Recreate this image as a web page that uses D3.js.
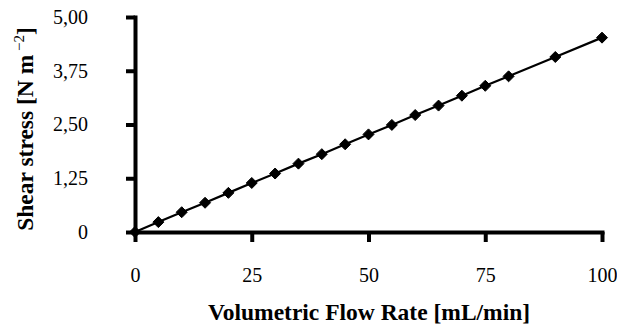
<!DOCTYPE html>
<html>
<head>
<meta charset="utf-8">
<script src="https://cdn.jsdelivr.net/npm/d3@7"></script>
<style>
  html, body { margin: 0; padding: 0; background: #fff; }
  svg { display: block; }
  svg text { font-family: "Liberation Serif", "Times New Roman", serif !important; fill: #000; }
</style>
</head>
<body>
<svg id="chart" width="617" height="325"></svg>
<script>
// Volumetric flow rate (mL/min) and resulting wall shear stress (N m^-2)
const flowRates = [0, 5, 10, 15, 20, 25, 30, 35, 40, 45, 50, 55, 60, 65, 70, 75, 80, 90, 100];
const shearStress = [0, 0.23, 0.46, 0.68, 0.91, 1.14, 1.36, 1.59, 1.81, 2.04, 2.27, 2.49, 2.72, 2.94, 3.17, 3.40, 3.62, 4.07, 4.52];

const xTicks = [0, 25, 50, 75, 100];
const xTickLabels = ["0", "25", "50", "75", "100"];
const yTicks = [0, 1.25, 2.5, 3.75, 5];
const yTickLabels = ["0", "1,25", "2,50", "3,75", "5,00"];

const svg = d3.select("#chart");
const x = d3.scaleLinear().domain([0, 100]).range([135, 602]);
const y = d3.scaleLinear().domain([0, 5]).range([232, 17]);

// Y axis
const yAxis = d3.axisLeft(y)
  .tickValues(yTicks)
  .tickFormat((d, i) => yTickLabels[i])
  .tickSizeInner(9)
  .tickSizeOuter(0)
  .tickPadding(38);
const gy = svg.append("g").attr("transform", `translate(${x(0)},0)`).call(yAxis);

// X axis
const xAxis = d3.axisBottom(x)
  .tickValues(xTicks)
  .tickFormat((d, i) => xTickLabels[i])
  .tickSizeInner(10)
  .tickSizeOuter(0)
  .tickPadding(26);
const gx = svg.append("g").attr("transform", `translate(0,${y(0)})`).call(xAxis);

[gx, gy].forEach(g => {
  g.attr("font-family", null).attr("font-size", null);
  g.select(".domain").attr("stroke", "#000").attr("stroke-width", 4).attr("stroke-linecap", "square");
  g.selectAll(".tick line").attr("stroke", "#000").attr("stroke-width", 4);
  g.selectAll(".tick text")
    .style("font-size", "20px")
    .attr("fill", "#000");
});

// Data line
const pts = flowRates.map((f, i) => [f, shearStress[i]]);
svg.append("path")
  .datum(pts)
  .attr("fill", "none")
  .attr("stroke", "#000")
  .attr("stroke-width", 2.2)
  .attr("d", d3.line().x(d => x(d[0])).y(d => y(d[1])));

// Diamond markers
const r = 5.5;
svg.append("g").selectAll("path")
  .data(pts)
  .join("path")
  .attr("transform", d => `translate(${x(d[0])},${y(d[1])})`)
  .attr("d", `M0,${-r}L${r},0L0,${r}L${-r},0Z`)
  .attr("fill", "#000")
  .attr("stroke", "#000")
  .attr("stroke-width", 1)
  .attr("stroke-linejoin", "round");

// Axis titles
svg.append("text")
  .attr("x", 369)
  .attr("y", 320)
  .attr("text-anchor", "middle")
  .style("font-weight", "bold")
  .style("font-size", "23.5px")
  .text("Volumetric Flow Rate [mL/min]");

const yt = svg.append("text")
  .attr("transform", "translate(33,129) rotate(-90)")
  .attr("text-anchor", "middle")
  .style("font-weight", "bold")
  .style("font-size", "23.5px");
yt.append("tspan").text("Shear stress [N m");
yt.append("tspan").style("font-size", "15px").attr("dy", -9).style("font-weight", "normal").text(" \u22122");
yt.append("tspan").attr("dy", 9).text("]");
</script>
</body>
</html>
